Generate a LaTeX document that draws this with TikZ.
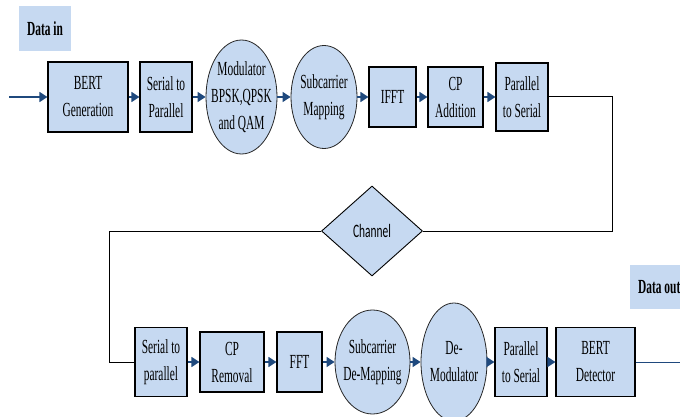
\documentclass[tikz,border=0pt]{standalone}
\usepackage{fontspec}
\setmainfont{Liberation Serif}[FakeStretch=0.57]
\newfontfamily\chanfont{Carlito}[FakeStretch=0.6]
\usetikzlibrary{shapes.geometric, arrows.meta, positioning}
\definecolor{boxblue}{HTML}{C6D9F1}
\definecolor{flowblue}{HTML}{1F497D}

\begin{document}
\begin{tikzpicture}[x=1pt, y=-1pt,
  block/.style={rectangle, fill=boxblue, draw=black, line width=1.1pt, inner sep=1pt,
    align=center, font=\fontsize{20}{27}\selectfont},
  ovalbox/.style={ellipse, fill=boxblue, draw=black!85, line width=0.8pt, inner sep=0pt},
  ovaltext/.style={align=center, font=\fontsize{20}{27}\selectfont},
  gate/.style={diamond, fill=boxblue, draw=black, line width=0.9pt, inner sep=0pt,
    minimum width=101pt, minimum height=90pt, font=\chanfont\fontsize{19}{22}\selectfont},
  tag/.style={rectangle, fill=boxblue, inner xsep=8pt, inner ysep=0pt, minimum height=45pt,
    font=\bfseries\fontsize{20}{24}\selectfont},
  arrow/.style={-{Triangle[length=8pt, width=10pt]}, line width=1.4pt, flowblue},
  wire/.style={draw=black, line width=1pt}
]
  \useasboundingbox (0,0) rectangle (680,417);
  \clip (0,0) rectangle (680,417);

  % transmitter
  \node[tag] (datain) at (45,28.5) {Data in};
  \coordinate (in) at (9,97);
  \node[block, minimum width=80pt, minimum height=70pt] (bert) at (88,97) {BERT\\Generation};
  \node[block, minimum width=52pt, minimum height=70pt] (s2p) at (166,97) {Serial to\\Parallel};
  \node[ovalbox, minimum width=71pt, minimum height=114pt,
    label={[ovaltext]center:{Modulator\\BPSK,QPSK\\and QAM}}] (mod) at (241.5,97) {};
  \node[ovalbox, minimum width=66pt, minimum height=103pt,
    label={[ovaltext]center:{Subcarrier\\Mapping}}] (submap) at (324,97) {};
  \node[block, minimum width=47pt, minimum height=60pt] (ifft) at (392.5,97) {IFFT};
  \node[block, minimum width=55pt, minimum height=60pt] (cpadd) at (455.5,97) {CP\\Addition};
  \node[block, minimum width=52pt, minimum height=68pt] (p2s) at (522,97) {Parallel\\to Serial};

  \draw[arrow] (in) -- (bert);
  \draw[arrow] (bert) -- (s2p);
  \draw[arrow] (s2p) -- (mod);
  \draw[arrow] (mod) -- (submap);
  \draw[arrow] (submap) -- (ifft);
  \draw[arrow] (ifft) -- (cpadd);
  \draw[arrow] (cpadd) -- (p2s);

  % channel
  \node[gate] (channel) at (372,231) {Channel};
  \coordinate (turnR) at (612,231);
  \coordinate (turnL) at (109,231);

  % receiver
  \node[tag, anchor=west, minimum height=44pt] (dataout) at (630,287) {Data out};
  \node[block, minimum width=52pt, minimum height=69pt] (s2pb) at (161,362) {Serial to\\parallel};
  \node[block, minimum width=64pt, minimum height=60pt] (cprem) at (232,362) {CP\\Removal};
  \node[block, minimum width=45pt, minimum height=60pt] (fft) at (299.5,362) {FFT};
  \node[ovalbox, minimum width=75pt, minimum height=104pt,
    label={[ovaltext]center:{Subcarrier\\De-Mapping}}] (demap) at (372.5,362) {};
  \node[ovalbox, minimum width=66pt, minimum height=118pt,
    label={[ovaltext]center:{De-\\Modulator}}] (demod) at (454,362) {};
  \node[block, minimum width=52pt, minimum height=69pt] (p2sb) at (521,362) {Parallel\\to Serial};
  \node[block, minimum width=79pt, minimum height=69pt] (bertd) at (595.5,362) {BERT\\Detector};
  \coordinate (out) at (680,362);

  \draw[wire] (p2s) -| (turnR) -- (channel);
  \draw[wire] (channel) -- (turnL) |- (s2pb);

  \draw[arrow] (s2pb) -- (cprem);
  \draw[arrow] (cprem) -- (fft);
  \draw[arrow] (fft) -- (demap);
  \draw[arrow] (demap) -- (demod);
  \draw[arrow] (demod) -- (p2sb);
  \draw[arrow] (p2sb) -- (bertd);
  \draw[flowblue, line width=1pt] (bertd) -- (out);
\end{tikzpicture}
\end{document}
